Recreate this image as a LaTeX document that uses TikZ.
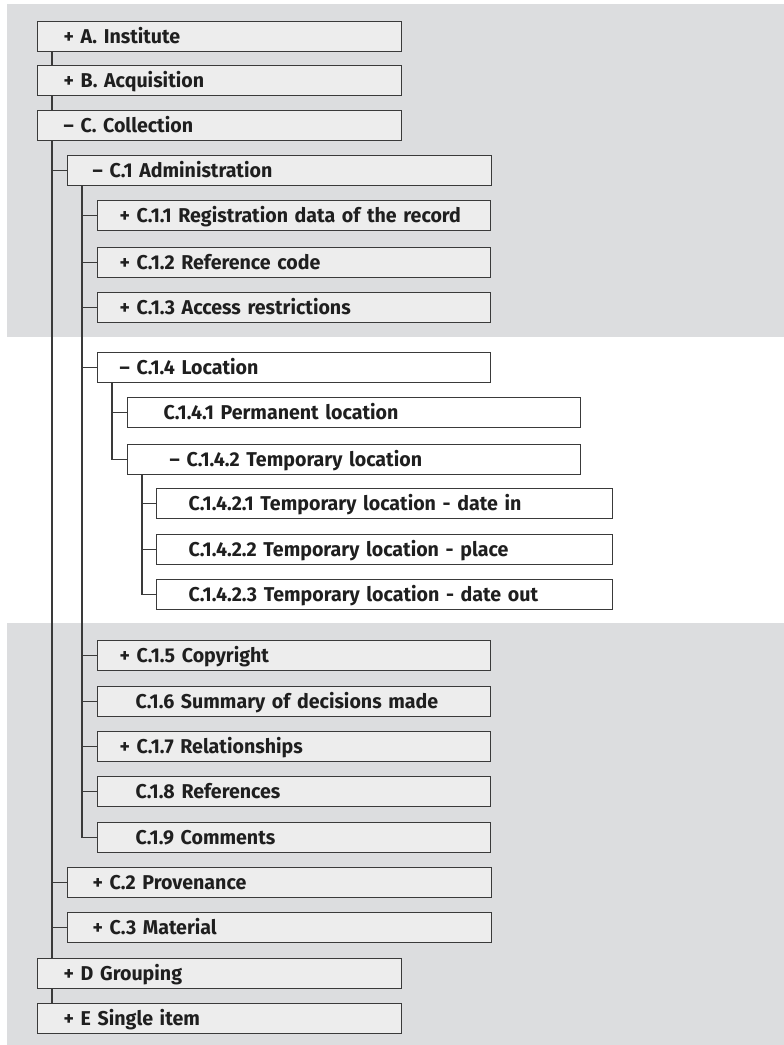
\documentclass[tikz,border=0pt]{standalone}
\usepackage{fontspec}
\setmainfont{Fira Sans}[FakeStretch=0.98]
\definecolor{bandgray}{HTML}{DCDDDF}
\definecolor{boxgray}{HTML}{EDEDED}
\definecolor{linegray}{HTML}{3A3A3A}
\tikzset{
  box/.style={draw=linegray, line width=1.3pt, fill=boxgray, anchor=north west,
    minimum height=30pt, text height=14pt, text depth=0pt, align=left,
    text=black!88, font=\bfseries\fontsize{20}{22}\selectfont},
  boxsize/.code 2 args={\pgfmathsetmacro\boxtw{#1-2*#2}%
    \tikzset{inner xsep=#2pt, text width=\boxtw pt}},
  tree/.style={draw=linegray, line width=1.2pt},
}
\begin{document}
\begin{tikzpicture}[x=1pt,y=-1pt]
      \useasboundingbox (0,0) rectangle (784,1045);
      \fill[bandgray] (7,4) rectangle (784,337);
      \fill[bandgray] (7,623) rectangle (784,1045);

      \node[box,boxsize={364}{26}] (A) at (37,21) {+ A. Institute};
      \node[box,boxsize={364}{26}] (B) at (37,65) {+ B. Acquisition};
      \node[box,boxsize={364}{26}] (C) at (37,110) {-- C. Collection};
      \node[box,boxsize={424}{25}] (C1) at (67,155) {-- C.1 Administration};
      \node[box,boxsize={393}{22}] (C11) at (97,200) {+ C.1.1 Registration data of the record};
      \node[box,boxsize={393}{22}] (C12) at (97,247) {+ C.1.2 Reference code};
      \node[box,boxsize={393}{22}] (C13) at (97,292) {+ C.1.3 Access restrictions};
      \node[box,fill=white,boxsize={393}{22}] (C14) at (97,352) {-- C.1.4 Location};
      \node[box,fill=white,boxsize={453}{36}] (C141) at (127,397) {C.1.4.1 Permanent location};
      \node[box,fill=white,boxsize={453}{42}] (C142) at (127,444) {-- C.1.4.2 Temporary location};
      \node[box,fill=white,boxsize={456}{32}] (C1421) at (156,488) {C.1.4.2.1 Temporary location - date in};
      \node[box,fill=white,boxsize={456}{32}] (C1422) at (156,534) {C.1.4.2.2 Temporary location - place};
      \node[box,fill=white,boxsize={456}{32}] (C1423) at (156,579) {C.1.4.2.3 Temporary location - date out};
      \node[box,boxsize={393}{22}] (C15) at (97,640) {+ C.1.5 Copyright};
      \node[box,boxsize={393}{38}] (C16) at (97,686) {C.1.6 Summary of decisions made};
      \node[box,boxsize={393}{22}] (C17) at (97,731) {+ C.1.7 Relationships};
      \node[box,boxsize={393}{38}] (C18) at (97,776) {C.1.8 References};
      \node[box,boxsize={393}{38}] (C19) at (97,822) {C.1.9 Comments};
      \node[box,boxsize={424}{25}] (C2) at (67,867) {+ C.2 Provenance};
      \node[box,boxsize={424}{25}] (C3) at (67,912) {+ C.3 Material};
      \node[box,boxsize={364}{26}] (D) at (37,958) {+ D Grouping};
      \node[box,boxsize={364}{26}] (E) at (37,1003) {+ E Single item};

      % top level trunk
      \draw[tree] ([xshift=15pt]A.south west) -- ([xshift=15pt]A.south west |- B.north);
      \draw[tree] ([xshift=15pt]B.south west) -- ([xshift=15pt]B.south west |- C.north);
      \draw[tree] ([xshift=15pt]C.south west) -- ([xshift=15pt]C.south west |- D.north);
      \draw[tree] ([xshift=15pt]D.south west) -- ([xshift=15pt]D.south west |- E.north);

      % children of C
      \draw[tree] ([xshift=15pt]C.south west) |- (C1.west);
      \draw[tree] ([xshift=15pt]C.south west) |- (C2.west);
      \draw[tree] ([xshift=15pt]C.south west) |- (C3.west);

      % children of C.1
      \draw[tree] ([xshift=15pt]C1.south west) |- (C11.west);
      \draw[tree] ([xshift=15pt]C1.south west) |- (C12.west);
      \draw[tree] ([xshift=15pt]C1.south west) |- (C13.west);
      \draw[tree] ([xshift=15pt]C1.south west) |- (C14.west);
      \draw[tree] ([xshift=15pt]C1.south west) |- (C15.west);
      \draw[tree] ([xshift=15pt]C1.south west) |- (C16.west);
      \draw[tree] ([xshift=15pt]C1.south west) |- (C17.west);
      \draw[tree] ([xshift=15pt]C1.south west) |- (C18.west);
      \draw[tree] ([xshift=15pt]C1.south west) |- (C19.west);

      % children of C.1.4 and C.1.4.2
      \draw[tree] ([xshift=15pt]C14.south west) |- (C141.west);
      \draw[tree] ([xshift=15pt]C14.south west) |- (C142.west);
      \draw[tree] ([xshift=15pt]C142.south west) |- (C1421.west);
      \draw[tree] ([xshift=15pt]C142.south west) |- (C1422.west);
      \draw[tree] ([xshift=15pt]C142.south west) |- (C1423.west);
    \end{tikzpicture}
\end{document}
